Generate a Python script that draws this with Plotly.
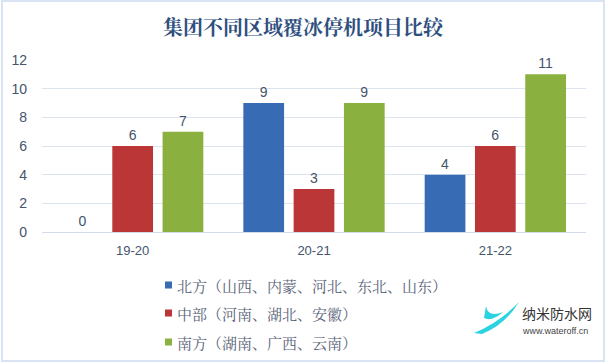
import plotly.graph_objects as go

categories = ["19-20", "20-21", "21-22"]
series_names = ["北方（山西、内蒙、河北、东北、山东）", "中部（河南、湖北、安徽）", "南方（湖南、广西、云南）"]
north = [0, 9, 4]
central = [6, 3, 6]
south = [7, 9, 11]
y_ticks = [0, 2, 4, 6, 8, 10, 12]

colors = ["#376BB4", "#BB3737", "#8AB03F"]
text_color = "#44546A"
W, H = 606, 364
ml, mr, mt, mb = 42, 20, 60, 132

fig = go.Figure()
for i, (name, vals) in enumerate(zip(series_names, [north, central, south])):
    fig.add_trace(go.Bar(
        x=categories, y=vals, name=name,
        marker=dict(color=colors[i], line=dict(width=0)),
        text=[str(v) for v in vals], textposition="outside",
        textfont=dict(size=14, color=text_color, family="Liberation Sans, Arial"),
        cliponaxis=False, showlegend=False,
    ))

pw = W - ml - mr
ph = H - mt - mb
def px(x):
    return (x - ml) / pw
def py(y):
    return (H - mb - y) / ph

shapes = [
    dict(type="rect", xref="paper", yref="paper",
         x0=px(2), x1=px(604), y0=py(361), y1=py(1),
         line=dict(color="#DAE3F3", width=2), fillcolor="rgba(0,0,0,0)", layer="below"),
    dict(type="path", xref="paper", yref="paper",
         path=(f"M {px(474)},{py(333)} Q {px(500)},{py(322)} {px(519)},{py(302)} "
               f"Q {px(505)},{py(325)} {px(482)},{py(334)} Z"),
         fillcolor="#2BD3E0", line=dict(width=0)),
    dict(type="path", xref="paper", yref="paper",
         path=(f"M {px(486)},{py(306)} Q {px(488)},{py(318)} {px(503)},{py(312)} "
               f"Q {px(492)},{py(322)} {px(484)},{py(318)} Z"),
         fillcolor="#2BD3E0", line=dict(width=0)),
]

annotations = [
    dict(text="纳米防水网", xref="paper", yref="paper", x=px(520), y=py(313),
         xanchor="left", yanchor="middle", showarrow=False,
         font=dict(size=14, color="#333333", family="Noto Sans CJK SC")),
    dict(text="www.wateroff.cn", xref="paper", yref="paper", x=px(520), y=py(331),
         xanchor="left", yanchor="middle", showarrow=False,
         font=dict(size=9, color="#444444", family="Liberation Sans, Arial")),
]

# manual legend
legend_rows = [285, 313, 342]
for i, name in enumerate(series_names):
    yc = legend_rows[i]
    shapes.append(dict(type="rect", xref="paper", yref="paper",
                       x0=px(165), x1=px(172), y0=py(yc + 3.5), y1=py(yc - 3.5),
                       fillcolor=colors[i], line=dict(width=0)))
    annotations.append(dict(text=name, xref="paper", yref="paper", x=px(175), y=py(yc),
                            xanchor="left", yanchor="middle", showarrow=False,
                            font=dict(size=15, color="#5A6478",
                                      family="Noto Serif CJK SC, Noto Sans CJK SC")))

fig.update_layout(
    width=W, height=H,
    margin=dict(l=ml, r=mr, t=mt, b=mb),
    paper_bgcolor="white", plot_bgcolor="white",
    title=dict(text="<b>集团不同区域覆冰停机项目比较</b>", x=0.5, xref="container", xanchor="center",
               y=1 - 28 / H, yanchor="middle",
               font=dict(size=20, color="#2F4F7F", family="Noto Serif CJK SC, Noto Sans CJK SC")),
    barmode="group", bargap=0.168, bargroupgap=0.19,
    xaxis=dict(showgrid=False, showline=False, ticks="", zeroline=False, ticklabelstandoff=9,
               tickfont=dict(size=13, color=text_color, family="Liberation Sans, Arial")),
    yaxis=dict(range=[0, 12], tickvals=y_ticks, showgrid=True, gridcolor="#DCE4EF",
               gridwidth=1, zeroline=True, zerolinecolor="#D2DCEA", zerolinewidth=1,
               showline=False, ticks="", ticklabelstandoff=14,
               tickfont=dict(size=14, color=text_color, family="Liberation Sans, Arial")),
    shapes=shapes, annotations=annotations,
    showlegend=False,
)

fig.write_html("out.html", config={"displayModeBar": False},
               post_script="document.body.style.margin='0';document.body.style.padding='0';")
